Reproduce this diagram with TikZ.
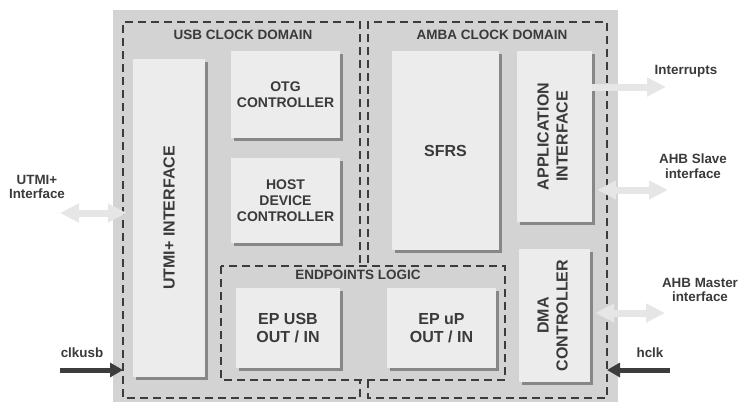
\documentclass[tikz,border=0pt]{standalone}
\usepackage{fontspec}
\setmainfont{Liberation Sans}
\usetikzlibrary{arrows.meta,shadows}

\definecolor{sfondo}{RGB}{211,211,211}
\definecolor{riempi}{RGB}{236,236,236}
\definecolor{ombra}{RGB}{135,135,135}
\definecolor{testo}{RGB}{58,58,58}
\definecolor{chiaro}{RGB}{230,230,230}
\definecolor{scuro}{RGB}{60,60,60}

\tikzset{
  blocco/.style={fill=riempi, draw=none, inner sep=0pt, align=center, text=testo,
    font=\bfseries\fontsize{16}{18}\selectfont,
    drop shadow={shadow xshift=3pt, shadow yshift=-3pt, fill=ombra, opacity=1}},
  piccolo/.style={font=\bfseries\fontsize{14}{16}\selectfont},
  dominio/.style={draw=scuro, line width=1.6pt, dash pattern=on 8pt off 5pt},
  titolo/.style={text=testo, inner sep=0pt, font=\bfseries\fontsize{13.5}{16}\selectfont},
  etichetta/.style={text=testo, inner sep=0pt, align=center, font=\bfseries\fontsize{13.4}{14.5}\selectfont},
  freccia/.style={chiaro, line width=7pt, -{Triangle[length=19pt,width=18pt]}},
  doppia/.style={chiaro, line width=7pt, {Triangle[length=19pt,width=18pt]}-{Triangle[length=19pt,width=18pt]}},
  orologio/.style={scuro, line width=5pt, -{Triangle[length=13pt,width=14pt]}}
}

\begin{document}
\begin{tikzpicture}[x=1pt, y=-1pt]
    \useasboundingbox (0,0) rectangle (739,402);
    % Sfondo del blocco
    \fill[sfondo] (113,10) rectangle (618,402);

    % Domini di clock
    \draw[dominio] (360,263) -- (360,22) -- (123,22) -- (123,398) -- (360,398) -- (360,380);
    \draw[dominio] (368,263) -- (368,22) -- (607,22) -- (607,398) -- (368,398) -- (368,380);
    \draw[dominio] (221,266) rectangle (505,380);
    \node[titolo] (usbdom) at (243,35) {USB CLOCK DOMAIN};
    \node[titolo] (ambadom) at (492,35) {AMBA CLOCK DOMAIN};
    \node[titolo] (epdom) at (358,275) {ENDPOINTS LOGIC};

    % Blocchi
    \node[blocco, minimum width=72pt, minimum height=318pt] (utmi) at (169,218) {\rotatebox{90}{UTMI+ INTERFACE}};
    \node[blocco, piccolo, minimum width=109pt, minimum height=87pt] (otg) at (285.5,94.5) {OTG\\CONTROLLER};
    \node[blocco, piccolo, minimum width=109pt, minimum height=85pt] (host) at (285.5,200.5) {HOST\\DEVICE\\CONTROLLER};
    \node[blocco, minimum width=104pt, minimum height=80pt] (epusb) at (288,328) {EP USB\\OUT / IN};
    \node[blocco, minimum width=107pt, minimum height=199pt] (sfrs) at (445.5,150.5) {SFRS};
    \node[blocco, minimum width=75pt, minimum height=171pt] (app) at (554.5,136.5)
        {\rotatebox{90}{\begin{tabular}{@{}c@{}}APPLICATION\\[1pt]INTERFACE\end{tabular}}};
    \node[blocco, minimum width=109pt, minimum height=80pt] (epup) at (441.5,328) {EP uP\\OUT / IN};
    \node[blocco, minimum width=71pt, minimum height=133pt] (dma) at (554.5,315.5)
        {\rotatebox{90}{\begin{tabular}{@{}c@{}}DMA\\[1pt]CONTROLLER\end{tabular}}};

    % Segnali esterni
    \node[etichetta] (utmiext) at (37,187) {UTMI+\\Interface};
    \node[etichetta, anchor=base] (clkusb) at (82,357) {clkusb};
    \node[etichetta, anchor=base] (hclk) at (650,357) {hclk};
    \node[etichetta, anchor=base] (irq) at (686,74) {Interrupts};
    \node[etichetta] (slave) at (693,166) {AHB Slave\\interface};
    \node[etichetta] (master) at (700,290) {AHB Master\\interface};

    \coordinate (utmiend) at (60,213);
    \coordinate (irqend) at (666,87);
    \coordinate (slaveend) at (668,190);
    \coordinate (masterend) at (665,313);
    \coordinate (clkusbin) at (60,370);
    \coordinate (clkusbdom) at (123,370);
    \coordinate (hclkin) at (670,370);
    \coordinate (hclkdom) at (607,370);

    % Frecce
    \draw[doppia] (utmiend) -- ([xshift=-6pt]utmi.west |- utmiend);
    \draw[freccia] (app.east |- irqend) -- (irqend);
    \draw[doppia] ([xshift=5pt]app.east |- slaveend) -- (slaveend);
    \draw[doppia] ([xshift=5pt]dma.east |- masterend) -- (masterend);
    \draw[orologio] (clkusbin) -- (clkusbdom);
    \draw[orologio] (hclkin) -- (hclkdom);
\end{tikzpicture}
\end{document}
